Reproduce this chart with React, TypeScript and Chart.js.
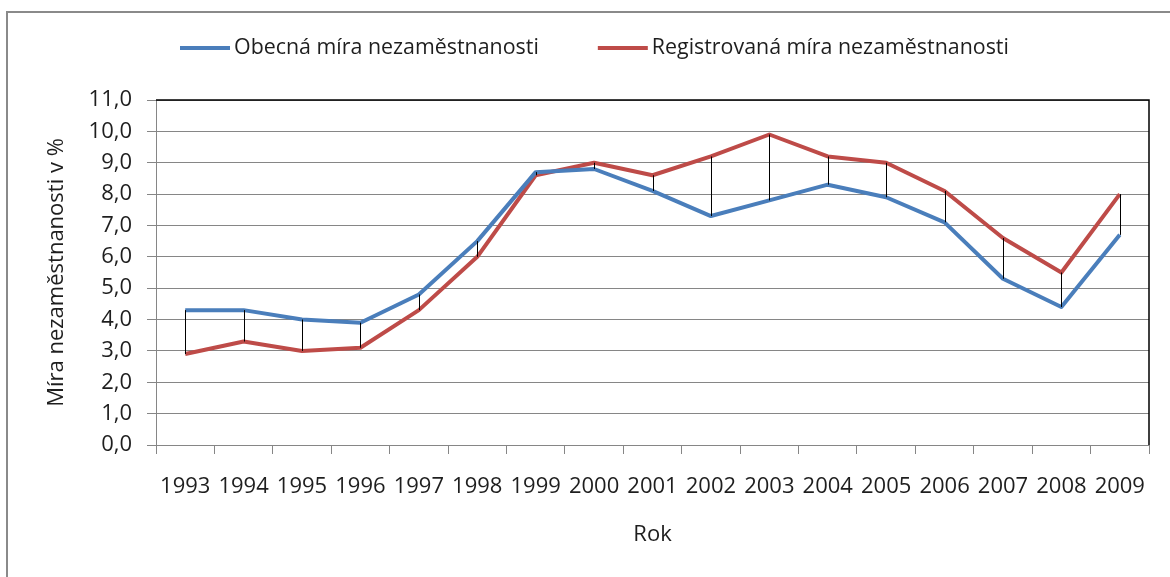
import React, { useEffect, useRef } from "react";
import { Chart, registerables } from "chart.js";

Chart.register(...registerables);

const years = ["1993", "1994", "1995", "1996", "1997", "1998", "1999", "2000", "2001", "2002", "2003", "2004", "2005", "2006", "2007", "2008", "2009"];
const obecnaMira = [4.3, 4.3, 4.0, 3.9, 4.8, 6.5, 8.7, 8.8, 8.1, 7.3, 7.8, 8.3, 7.9, 7.1, 5.3, 4.4, 6.7];
const registrovanaMira = [2.9, 3.3, 3.0, 3.1, 4.3, 6.0, 8.6, 9.0, 8.6, 9.2, 9.9, 9.2, 9.0, 8.1, 6.6, 5.5, 8.0];
const yTickLabels = ["0,0", "1,0", "2,0", "3,0", "4,0", "5,0", "6,0", "7,0", "8,0", "9,0", "10,0", "11,0"];
const seriesNames = ["Obecná míra nezaměstnanosti", "Registrovaná míra nezaměstnanosti"];
const xTitle = "Rok";
const yTitle = "Míra nezaměstnanosti v %";

const FONT_FAMILY = "'Open Sans', 'Noto Sans', sans-serif";
const FONT_SIZE = 22;
const LEGEND_FONT_SIZE = 21.4;
const TEXT_COLOR = "#1e1e1e";
const GRID_COLOR = "#868686";
const BLUE = "#4a7ebb";
const RED = "#be4b48";

const frameAndLegendPlugin = {
  id: "frameAndLegend",
  beforeDraw(chart: any) {
    const ctx = chart.ctx;
    ctx.save();
    ctx.fillStyle = "#ffffff";
    ctx.fillRect(0, 0, chart.width, chart.height);
    ctx.strokeStyle = "#8a8a8a";
    ctx.lineWidth = 2;
    ctx.strokeRect(7, 12, chart.width + 50, chart.height + 50);
    ctx.restore();
  },
  afterDatasetsDraw(chart: any) {
    const ctx = chart.ctx;
    const xs = chart.scales.x;
    const ys = chart.scales.y;
    const a = chart.data.datasets[0].data as number[];
    const b = chart.data.datasets[1].data as number[];
    ctx.save();
    ctx.strokeStyle = "#000000";
    ctx.lineWidth = 1;
    for (let i = 0; i < a.length; i++) {
      const x = Math.round(xs.getPixelForValue(i)) + 0.5;
      ctx.beginPath();
      ctx.moveTo(x, ys.getPixelForValue(a[i]));
      ctx.lineTo(x, ys.getPixelForValue(b[i]));
      ctx.stroke();
    }
    ctx.restore();
  },
  afterDraw(chart: any) {
    const ctx = chart.ctx;
    const area = chart.chartArea;
    ctx.save();
    // plot area border (top and right in black)
    ctx.strokeStyle = "#000000";
    ctx.lineWidth = 1.5;
    ctx.beginPath();
    ctx.moveTo(area.left, area.top);
    ctx.lineTo(area.right, area.top);
    ctx.lineTo(area.right, area.bottom);
    ctx.stroke();
    // legend
    ctx.font = `${LEGEND_FONT_SIZE}px ${FONT_FAMILY}`;
    ctx.textBaseline = "middle";
    ctx.textAlign = "left";
    let x = 180;
    const y = 48;
    chart.data.datasets.forEach((ds: any) => {
      ctx.strokeStyle = ds.borderColor;
      ctx.lineWidth = 4;
      ctx.lineCap = "butt";
      ctx.beginPath();
      ctx.moveTo(x, y);
      ctx.lineTo(x + 50, y);
      ctx.stroke();
      ctx.fillStyle = TEXT_COLOR;
      ctx.fillText(ds.label, x + 54, y);
      x += 54 + ctx.measureText(ds.label).width + 59;
    });
    ctx.restore();
  },
};

export default function App() {
  const canvasRef = useRef<HTMLCanvasElement | null>(null);

  useEffect(() => {
    if (!canvasRef.current) return;
    const font = { family: FONT_FAMILY, size: FONT_SIZE, lineHeight: 1.2 };
    const chart = new Chart(canvasRef.current, {
      type: "line",
      data: {
        labels: years,
        datasets: [
          {
            label: seriesNames[0],
            data: obecnaMira,
            borderColor: BLUE,
            backgroundColor: BLUE,
            borderWidth: 4,
            pointRadius: 0,
            tension: 0,
            borderJoinStyle: "round",
          },
          {
            label: seriesNames[1],
            data: registrovanaMira,
            borderColor: RED,
            backgroundColor: RED,
            borderWidth: 4,
            pointRadius: 0,
            tension: 0,
            borderJoinStyle: "round",
          },
        ],
      },
      options: {
        responsive: false,
        animation: false,
        devicePixelRatio: 1,
        layout: { padding: { top: 100, right: 21, bottom: 0, left: 0 } },
        plugins: {
          legend: { display: false },
          title: { display: false },
          tooltip: { enabled: false },
        },
        scales: {
          x: {
            type: "category",
            offset: true,
            afterFit: (scale: any) => {
              scale.height = 132;
            },
            grid: {
              offset: true,
              drawOnChartArea: false,
              drawTicks: true,
              tickLength: 9,
              color: GRID_COLOR,
              lineWidth: 1,
            },
            border: { color: GRID_COLOR, width: 1 },
            ticks: {
              color: TEXT_COLOR,
              font,
              padding: 20,
              maxRotation: 0,
              autoSkip: false,
            },
            title: {
              display: true,
              text: xTitle,
              color: TEXT_COLOR,
              font,
              padding: { top: 0, bottom: 29 },
            },
          },
          y: {
            min: 0,
            max: 11,
            afterFit: (scale: any) => {
              scale.width = 156;
            },
            grid: {
              color: GRID_COLOR,
              lineWidth: 1,
              drawTicks: true,
              tickLength: 9,
            },
            border: { color: GRID_COLOR, width: 1 },
            ticks: {
              stepSize: 1,
              color: TEXT_COLOR,
              font,
              padding: 15,
              callback: (_v: any, i: number) => yTickLabels[i],
            },
            title: {
              display: true,
              text: yTitle,
              color: TEXT_COLOR,
              font,
              padding: { top: 44, bottom: 0 },
            },
          },
        },
      },
      plugins: [frameAndLegendPlugin],
    } as any);
    return () => chart.destroy();
  }, []);

  return (
    <div style={{ position: "absolute", left: 0, top: 0, width: 1170, height: 577, background: "#fff" }}>
      <canvas ref={canvasRef} width={1170} height={577} style={{ display: "block" }} />
    </div>
  );
}
